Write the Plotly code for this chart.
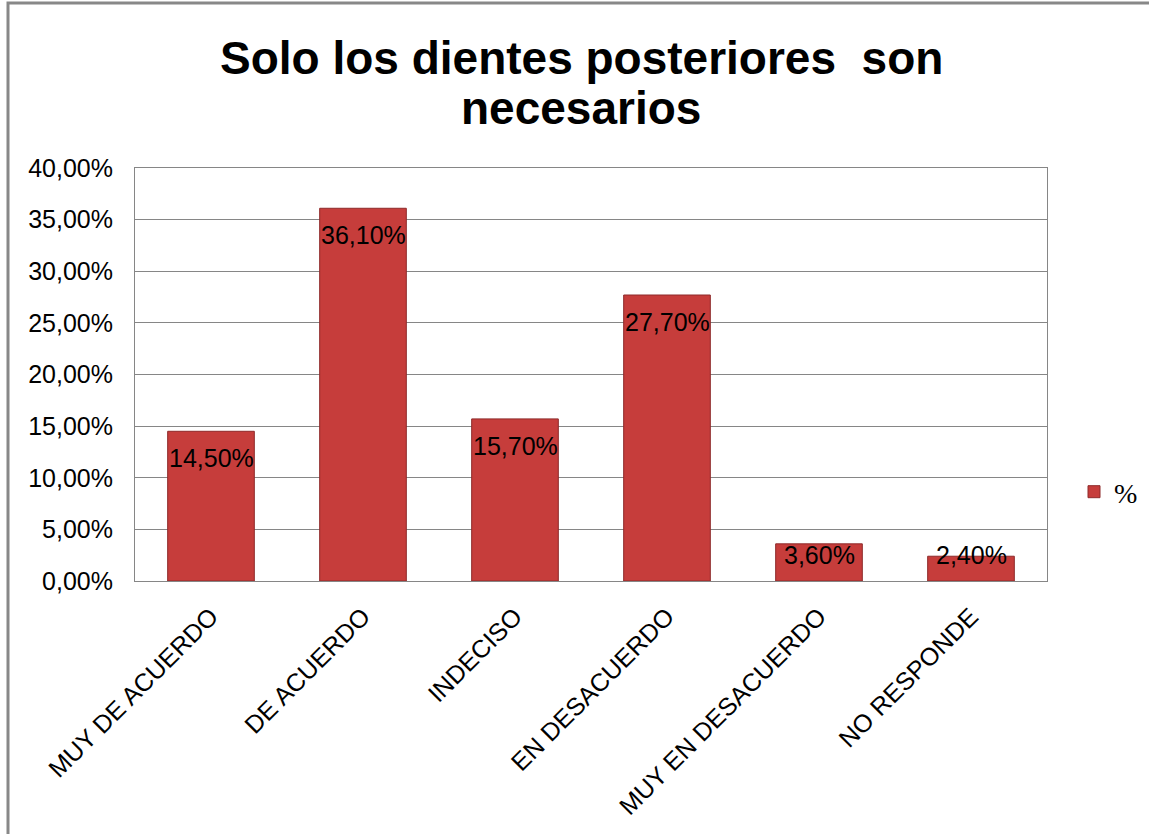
import plotly.graph_objects as go

categories = ["MUY DE ACUERDO", "DE ACUERDO", "INDECISO", "EN DESACUERDO",
              "MUY EN DESACUERDO", "NO RESPONDE"]
values = [0.145, 0.361, 0.157, 0.277, 0.036, 0.024]
series_name = "%"
title_lines = ["Solo los dientes posteriores  son", "necesarios"]

L, R, T, B = 135, 102, 168, 253
W, H = 1149, 834
pw, ph = W - L - R, H - T - B
FONT = "Liberation Sans, Arial"


def px_to_py(py):
    return (H - B - py) / ph


def px_to_px(px):
    return (px - L) / pw


fig = go.Figure()
fig.add_trace(go.Bar(
    x=categories, y=values, name=series_name,
    marker=dict(color="#C63D3B", line=dict(color="#8E2A2A", width=1)),
    width=0.57,
    showlegend=True,
    hoverinfo="x+y",
))

# data labels placed inside the top of each bar (kept above the baseline for short bars)
for c, v in zip(categories, values):
    fig.add_annotation(
        x=c, y=max(v - 0.026, 0.025), xref="x", yref="y",
        text=f"{v * 100:.2f}%".replace(".", ","),
        showarrow=False, xanchor="center", yanchor="middle",
        font=dict(family=FONT, size=25, color="black"),
    )

# title (two lines)
for i, line in enumerate(title_lines):
    fig.add_annotation(
        x=px_to_px(581), y=px_to_py(58 + 50 * i), xref="paper", yref="paper",
        text=f"<b>{line}</b>", showarrow=False, xanchor="center", yanchor="middle",
        font=dict(family=FONT, size=46, color="black"),
    )

fig.update_layout(
    width=W, height=H,
    margin=dict(l=L, r=R, t=T, b=B, autoexpand=False),
    paper_bgcolor="white", plot_bgcolor="white",
    separators=", ",
    font=dict(family=FONT, color="black"),
    showlegend=True,
    legend=dict(x=px_to_px(1074), y=px_to_py(492), xanchor="left", yanchor="middle",
                font=dict(family="Liberation Serif, Times New Roman", size=28, color="black"),
                bgcolor="rgba(0,0,0,0)", itemwidth=30),
)
fig.update_yaxes(range=[0, 0.40], dtick=0.05, tickformat=".2%",
                 showgrid=True, gridcolor="#868686", gridwidth=1,
                 showline=True, linecolor="#868686", linewidth=1, mirror=True,
                 ticks="", ticklabelstandoff=16,
                 tickfont=dict(family=FONT, size=25, color="black"),
                 zeroline=False)
fig.update_xaxes(tickangle=-45, showline=True, linecolor="#868686", linewidth=1,
                 mirror=True, ticks="", ticklabelstandoff=10,
                 tickfont=dict(family=FONT, size=25, color="black"))

# outer chart frame (extends past the right and bottom edges)
fig.add_shape(type="rect", xref="paper", yref="paper",
              x0=px_to_px(8), x1=px_to_px(1170),
              y0=px_to_py(860), y1=px_to_py(3),
              line=dict(color="#888888", width=3), fillcolor="rgba(0,0,0,0)", layer="below")

fig.write_html("out.html")
